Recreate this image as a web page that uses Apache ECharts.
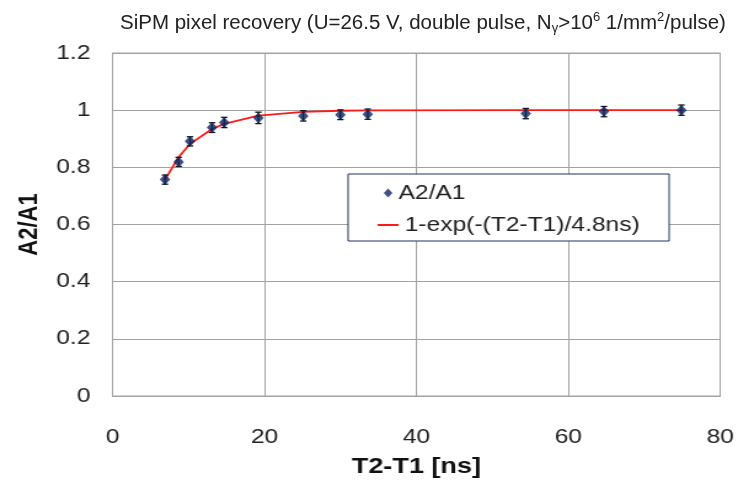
<!DOCTYPE html>
<html>
<head>
<meta charset="utf-8">
<title>SiPM pixel recovery</title>
<script src="https://cdn.jsdelivr.net/npm/echarts@6/dist/echarts.min.js"></script>
<style>
	html, body { margin: 0; padding: 0; background: #fff; overflow: hidden; }
	/* the original slide is stretched horizontally, so the chart is too (the title is not) */
	#chart { width: 604px; height: 489px; transform: scaleX(1.23); transform-origin: 0 0; }
	#title { position: absolute; left: 0; top: 0; width: 743px; height: 40px; }
</style>
</head>
<body>
<div id="chart"></div>
<div id="title"></div>
<script>
// 测量点 T2-T1 [ns]
var delayNs = [6.9, 8.7, 10.2, 13.1, 14.7, 19.2, 25.1, 30.0, 33.6, 54.4, 64.7, 74.9];
// A2/A1
var ratio = [0.757, 0.819, 0.891, 0.939, 0.957, 0.973, 0.980, 0.984, 0.986, 0.988, 0.995, 1.000];
// 误差棒 (±)
var ratioErr = [0.016, 0.016, 0.016, 0.017, 0.018, 0.020, 0.018, 0.017, 0.018, 0.018, 0.018, 0.018];
// 拟合曲线 (at each point)
var fitY = [0.757, 0.836, 0.882, 0.934, 0.952, 0.981, 0.994, 0.998, 0.999, 1.000, 1.000, 1.000];

var xTicks = { min: 0, max: 80, interval: 20 };
var yTicks = { min: 0, max: 1.2, interval: 0.2 };

var fontName = '"Liberation Sans", Arial, sans-serif';
var txtColor = '#222';
var gridColor = '#a3a3a3';
var navy = '#0b2560';

// 标题
function drawTitle() {
	var myChart = echarts.init(document.getElementById('title'));
	myChart.setOption({
		animation: false,
		title: {
			left: 115,
			top: 6,
			text: 'SiPM pixel recovery (U=26.5 V, double pulse, N{sub|γ}>10{sup|6} 1/mm{sup|2}/pulse)',
			textStyle: {
				fontFamily: fontName,
				fontSize: 20.5,
				fontWeight: 'normal',
				color: txtColor,
				lineHeight: 24,
				rich: {
					sub: { fontFamily: fontName, fontSize: 13, verticalAlign: 'bottom', lineHeight: 24, color: txtColor },
					sup: { fontFamily: fontName, fontSize: 13, verticalAlign: 'top', lineHeight: 24, color: txtColor }
				}
			}
		}
	});
}

function drawRecovery() {
	var myChart = echarts.init(document.getElementById('chart'));

	var pts = [], fit = [], bars = [];
	for (var i = 0; i < delayNs.length; i++) {
		pts.push([delayNs[i], ratio[i]]);
		fit.push([delayNs[i], fitY[i]]);
		bars.push([delayNs[i], ratio[i] - ratioErr[i], ratio[i] + ratioErr[i]]);
	}

	var option = {
		animation: false,
		backgroundColor: '#fff',
		textStyle: { fontFamily: fontName },
		grid: {
			left: 91.5, right: 18.5, top: 53, bottom: 93,
			show: true,
			borderColor: gridColor,
			borderWidth: 1
		},
		// 图例框
		graphic: [{
			type: 'rect',
			z: 3,
			shape: { x: 283, y: 174, width: 261, height: 67 },
			style: { fill: '#fff', stroke: '#1f3464', lineWidth: 1 }
		}],
		legend: [
			{
				left: 312,
				top: 183,
				padding: 0,
				itemWidth: 7,
				itemHeight: 9,
				textStyle: { fontFamily: fontName, fontSize: 20, color: txtColor },
				data: [{ name: 'A2/A1', icon: 'diamond' }]
			},
			{
				left: 307,
				top: 215,
				padding: 0,
				itemWidth: 17,
				itemHeight: 2,
				textStyle: { fontFamily: fontName, fontSize: 20, color: txtColor },
				data: [{ name: '1-exp(-(T2-T1)/4.8ns)', icon: 'rect' }]
			}
		],
		xAxis: {
			type: 'value',
			min: xTicks.min, max: xTicks.max, interval: xTicks.interval,
			name: 'T2-T1 [ns]',
			nameLocation: 'middle',
			nameGap: 60,
			nameTextStyle: { fontFamily: fontName, fontSize: 22, fontWeight: 'bold', color: '#111' },
			axisLine: { show: true, lineStyle: { color: gridColor } },
			axisTick: { show: false },
			axisLabel: { fontFamily: fontName, fontSize: 20, color: txtColor, margin: 31 },
			splitLine: { show: true, lineStyle: { color: gridColor, width: 1 } }
		},
		yAxis: {
			type: 'value',
			min: yTicks.min, max: yTicks.max, interval: yTicks.interval,
			name: 'A2/A1',
			nameLocation: 'middle',
			nameGap: 47,
			nameTextStyle: { fontFamily: fontName, fontSize: 22, fontWeight: 'bold', color: '#111' },
			axisLine: { show: true, lineStyle: { color: gridColor } },
			axisTick: { show: false },
			axisLabel: { fontFamily: fontName, fontSize: 20, color: txtColor, margin: 18 },
			splitLine: { show: true, lineStyle: { color: gridColor, width: 1 } }
		},
		series: [
			{
				name: '1-exp(-(T2-T1)/4.8ns)',
				type: 'line',
				data: fit,
				symbol: 'none',
				z: 2,
				lineStyle: { color: '#ff1a1a', width: 1.8 },
				itemStyle: { color: '#ff1a1a' }
			},
			{
				// 误差棒
				name: 'err',
				type: 'custom',
				data: bars,
				z: 3,
				renderItem: function(params, api) {
					var lo = api.coord([api.value(0), api.value(1)]);
					var hi = api.coord([api.value(0), api.value(2)]);
					var w = 2.6;
					var st = { stroke: '#111', lineWidth: 1.3 };
					return {
						type: 'group',
						children: [
							{ type: 'line', shape: { x1: lo[0], y1: lo[1], x2: hi[0], y2: hi[1] }, style: st },
							{ type: 'line', shape: { x1: lo[0] - w, y1: lo[1], x2: lo[0] + w, y2: lo[1] }, style: st },
							{ type: 'line', shape: { x1: hi[0] - w, y1: hi[1], x2: hi[0] + w, y2: hi[1] }, style: st }
						]
					};
				}
			},
			{
				name: 'A2/A1',
				type: 'scatter',
				data: pts,
				symbol: 'diamond',
				symbolSize: [8.5, 11],
				z: 4,
				itemStyle: { color: navy }
			}
		]
	};
	myChart.setOption(option);
}

drawRecovery();
drawTitle();
</script>
</body>
</html>
